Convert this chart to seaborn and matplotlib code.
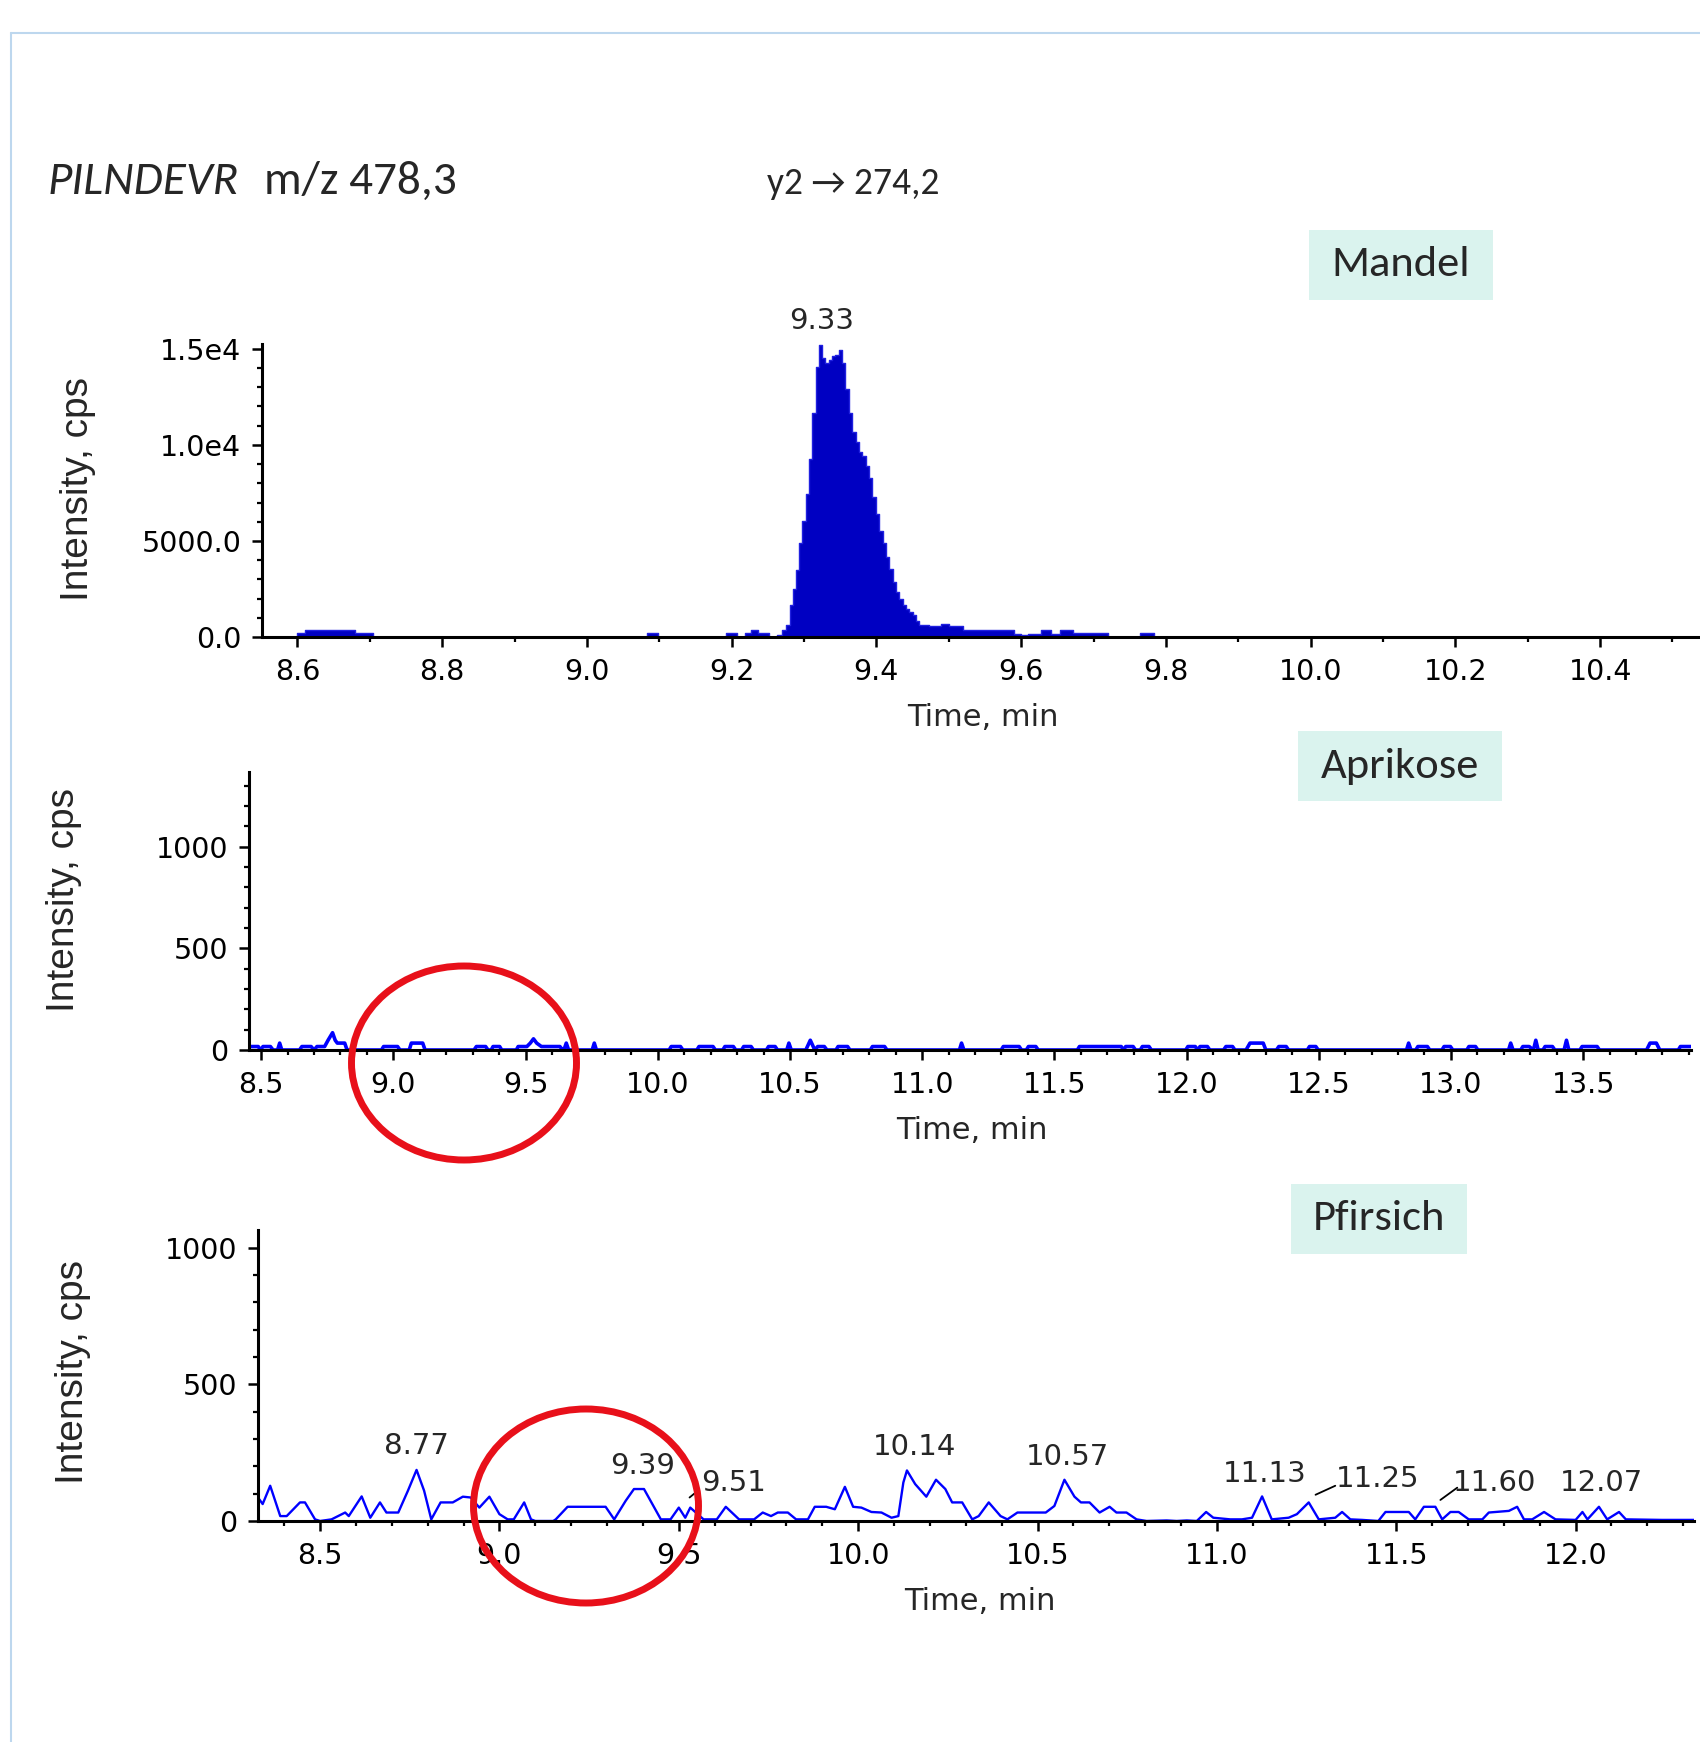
import matplotlib
matplotlib.use("Agg")
import numpy as np
import seaborn as sns
import matplotlib.pyplot as plt
from matplotlib.patches import Ellipse, Rectangle
from matplotlib.lines import Line2D
from matplotlib.ticker import MultipleLocator, FixedLocator, FixedFormatter, FormatStrFormatter
from matplotlib import font_manager

W, H = 1700, 1742

# ---------------- data ----------------
# Mandel (step chromatogram, time in min / intensity in cps)
mandel_time = [8.551, 8.600, 8.611, 8.679, 8.705, 9.083, 9.098, 9.192, 9.207, 9.218,
               9.226, 9.237, 9.252, 9.2628, 9.2698, 9.2744, 9.2800, 9.2847, 9.2884, 9.2930,
               9.2977, 9.3023, 9.3070, 9.3116, 9.3163, 9.3209, 9.3246, 9.3293, 9.3340, 9.3386,
               9.3433, 9.3479, 9.3526, 9.3572, 9.3619, 9.3665, 9.3712, 9.3758, 9.3805, 9.3851,
               9.3898, 9.3944, 9.3991, 9.4037, 9.4084, 9.4130, 9.4177, 9.4223, 9.4270, 9.4316,
               9.4363, 9.4409, 9.4456, 9.4502, 9.4549, 9.4595, 9.4725, 9.489, 9.500, 9.520,
               9.590, 9.600, 9.610, 9.627, 9.641, 9.654, 9.672, 9.720, 9.764, 9.783,
               10.538]
mandel_int = [0, 210, 350, 210, 0, 210, 0, 210, 0, 210,
              350, 210, 0, 120, 350, 640, 1680, 2510, 3510, 4900,
              6050, 7440, 9290, 11680, 14050, 15190, 14530, 14270, 14440, 14620,
              14700, 14930, 14240, 12900, 11680, 10680, 10160, 9640, 9430, 8910,
              8270, 7300, 6400, 5540, 4900, 4150, 3550, 2850, 2340, 1990,
              1640, 1470, 1300, 1150, 810, 650, 570, 690, 570, 345,
              170, 86, 170, 345, 170, 345, 190, 0, 190, 0,
              0]

# Aprikose
aprikose_time = [8.454, 8.489, 8.497, 8.507, 8.535, 8.545, 8.562, 8.570, 8.578, 8.645,
                 8.654, 8.689, 8.700, 8.711, 8.740, 8.753, 8.770, 8.780, 8.788, 8.816,
                 8.825, 8.955, 8.963, 9.016, 9.025, 9.060, 9.068, 9.111, 9.120, 9.305,
                 9.314, 9.349, 9.358, 9.370, 9.377, 9.402, 9.410, 9.465, 9.472, 9.505,
                 9.518, 9.530, 9.542, 9.560, 9.630, 9.640, 9.645, 9.654, 9.663, 9.752,
                 9.760, 9.768, 10.043, 10.051, 10.086, 10.095, 10.148, 10.156, 10.209, 10.218,
                 10.246, 10.254, 10.286, 10.295, 10.317, 10.325, 10.353, 10.362, 10.411, 10.419,
                 10.444, 10.453, 10.488, 10.496, 10.505, 10.560, 10.577, 10.594, 10.605, 10.630,
                 10.640, 10.674, 10.682, 10.718, 10.727, 10.804, 10.812, 10.858, 10.867, 11.141,
                 11.149, 11.158, 11.299, 11.307, 11.367, 11.376, 11.394, 11.402, 11.430, 11.439,
                 11.587, 11.595, 11.753, 11.762, 11.770, 11.798, 11.807, 11.825, 11.833, 11.858,
                 11.867, 11.997, 12.005, 12.033, 12.042, 12.051, 12.079, 12.088, 12.140, 12.149,
                 12.174, 12.183, 12.225, 12.240, 12.290, 12.300, 12.340, 12.349, 12.377, 12.386,
                 12.457, 12.465, 12.489, 12.498, 12.832, 12.840, 12.849, 12.867, 12.875, 12.911,
                 12.920, 12.966, 12.974, 12.998, 13.007, 13.060, 13.068, 13.093, 13.102, 13.218,
                 13.226, 13.235, 13.264, 13.272, 13.296, 13.312, 13.321, 13.330, 13.348, 13.356,
                 13.384, 13.393, 13.428, 13.437, 13.446, 13.488, 13.496, 13.553, 13.562, 13.740,
                 13.753, 13.777, 13.790, 13.860, 13.868, 13.908]
aprikose_int = [17, 17, 0, 17, 17, 0, 0, 34, 0, 0,
                17, 17, 0, 17, 17, 48, 85, 48, 34, 34,
                0, 0, 17, 17, 0, 0, 34, 34, 0, 0,
                17, 17, 0, 0, 17, 17, 0, 0, 17, 17,
                34, 55, 34, 17, 17, 0, 0, 34, 0, 0,
                34, 0, 0, 17, 17, 0, 0, 17, 17, 0,
                0, 17, 17, 0, 0, 17, 17, 0, 0, 17,
                17, 0, 0, 34, 0, 0, 48, 0, 17, 17,
                0, 0, 17, 17, 0, 0, 17, 17, 0, 0,
                34, 0, 0, 17, 17, 0, 0, 17, 17, 0,
                0, 17, 17, 0, 17, 17, 0, 0, 17, 17,
                0, 0, 17, 17, 0, 17, 17, 0, 0, 17,
                17, 0, 0, 34, 34, 0, 0, 17, 17, 0,
                0, 17, 17, 0, 0, 34, 0, 0, 17, 17,
                0, 0, 17, 17, 0, 0, 17, 17, 0, 0,
                34, 0, 0, 17, 17, 0, 48, 0, 0, 17,
                17, 0, 0, 48, 0, 0, 17, 17, 0, 0,
                34, 34, 0, 0, 17, 17]

# Pfirsich
pfirsich_time = [8.327, 8.340, 8.361, 8.389, 8.407, 8.444, 8.458, 8.486, 8.500, 8.532,
                 8.570, 8.580, 8.616, 8.640, 8.667, 8.685, 8.718, 8.745, 8.769, 8.790,
                 8.810, 8.836, 8.870, 8.898, 8.920, 8.944, 8.972, 9.000, 9.023, 9.040,
                 9.069, 9.088, 9.100, 9.150, 9.157, 9.190, 9.296, 9.320, 9.352, 9.375,
                 9.403, 9.450, 9.477, 9.500, 9.518, 9.532, 9.569, 9.606, 9.631, 9.668,
                 9.710, 9.734, 9.757, 9.776, 9.804, 9.827, 9.860, 9.879, 9.911, 9.935,
                 9.963, 9.986, 10.009, 10.037, 10.065, 10.093, 10.112, 10.126, 10.136, 10.159,
                 10.190, 10.217, 10.243, 10.262, 10.290, 10.318, 10.336, 10.364, 10.397, 10.416,
                 10.444, 10.523, 10.547, 10.575, 10.603, 10.621, 10.645, 10.673, 10.701, 10.720,
                 10.748, 10.776, 10.804, 10.860, 10.888, 10.916, 10.944, 10.970, 10.990, 11.037,
                 11.070, 11.098, 11.126, 11.153, 11.200, 11.223, 11.256, 11.284, 11.330, 11.349,
                 11.372, 11.405, 11.450, 11.470, 11.535, 11.553, 11.577, 11.609, 11.628, 11.651,
                 11.674, 11.702, 11.740, 11.758, 11.814, 11.837, 11.856, 11.879, 11.912, 11.944,
                 12.000, 12.019, 12.033, 12.065, 12.088, 12.121, 12.140, 12.240, 12.330]
pfirsich_int = [86, 62, 129, 18, 18, 68, 68, 6, 0, 6,
                31, 18, 90, 12, 68, 31, 31, 111, 187, 111,
                6, 68, 68, 89, 86, 49, 89, 25, 6, 6,
                68, 6, 0, 0, 6, 52, 52, 6, 74, 117,
                117, 6, 6, 49, 12, 49, 6, 6, 52, 6,
                6, 31, 18, 31, 31, 6, 6, 52, 52, 43,
                125, 52, 49, 33, 31, 12, 18, 141, 185, 135,
                89, 151, 117, 68, 68, 6, 18, 68, 18, 6,
                31, 31, 55, 151, 89, 68, 68, 31, 52, 31,
                31, 6, 0, 2, 0, 2, 0, 33, 12, 6,
                6, 12, 90, 6, 12, 25, 68, 6, 12, 33,
                6, 4, 0, 33, 33, 6, 52, 52, 6, 33,
                33, 6, 6, 31, 37, 52, 6, 6, 33, 6,
                4, 33, 6, 52, 6, 33, 6, 4, 4]

# peak labels
mandel_peak = "9.33"
pfirsich_peaks = ["8.77", "9.39", "9.51", "10.14", "10.57", "11.13", "11.25", "11.60", "12.07"]

# label placement (text centres, data units) and leader lines
mandel_peak_pos = (9.324, 16450)
pfirsich_label_x = [8.77, 9.398, 9.652, 10.158, 10.582, 11.134, 11.447, 11.775, 12.072]
pfirsich_label_y = [274, 200, 139, 270, 233, 172, 153, 139, 139]
leaders = [((9.530, 86), (9.556, 114)), ((11.275, 96), (11.330, 129)), ((11.623, 77), (11.670, 122))]

# ---------------- style ----------------
sns.set_style("ticks")
installed = {f.name for f in font_manager.fontManager.ttflist}


def pick(*names):
    for n in names:
        if n in installed:
            return n
    return "DejaVu Sans"


slide_font = pick("Carlito", "Lato", "Open Sans")
axis_font = "DejaVu Sans"
ylab_font = pick("Liberation Sans", "Arimo", "DejaVu Sans")
plt.rcParams["font.family"] = [axis_font]

BLUE = "#0000FF"
DARK = "#0000C2"
RED = "#E8101A"
BOX = "#DAF3EE"

fig = plt.figure(figsize=(W / 100, H / 100), dpi=100)
fig.patch.set_facecolor("white")


def px_axes(left, top, right, bottom):
    return fig.add_axes([left / W, 1 - bottom / H, (right - left) / W, (bottom - top) / H])


def style_axes(ax, xlim, ylim, xmaj, xmin, ymaj, ymin, xlab_xy, ylab_xy, yfmt=None):
    ax.set_xlim(*xlim)
    ax.set_ylim(*ylim)
    ax.set_facecolor("none")
    sns.despine(ax=ax)
    for s in ("left", "bottom"):
        ax.spines[s].set_linewidth(2.2)
        ax.spines[s].set_color("black")
    ax.xaxis.set_major_locator(FixedLocator(xmaj))
    ax.xaxis.set_minor_locator(MultipleLocator(xmin))
    ax.xaxis.set_major_formatter(FormatStrFormatter("%.1f"))
    ax.yaxis.set_major_locator(FixedLocator(ymaj))
    ax.yaxis.set_minor_locator(MultipleLocator(ymin))
    if yfmt is not None:
        ax.yaxis.set_major_formatter(FixedFormatter(yfmt))
    ax.tick_params(which="major", direction="out", length=7, width=1.8, labelsize=20.5, pad=8, colors="black")
    ax.tick_params(which="minor", direction="out", length=3.5, width=1.6, colors="black")
    ax.set_xlabel("Time, min", fontsize=22, family=axis_font)
    ax.xaxis.label.set_va("center")
    ax.xaxis.set_label_coords(xlab_xy[0] / W, 1 - xlab_xy[1] / H, transform=fig.transFigure)
    ax.set_ylabel("Intensity, cps", fontsize=28, family=ylab_font)
    ax.yaxis.label.set_va("center")
    ax.yaxis.set_label_coords(ylab_xy[0] / W, 1 - ylab_xy[1] / H, transform=fig.transFigure)


# ---------------- Mandel ----------------
ax1 = px_axes(262, 344, 1700, 637)
ax1.fill_between(mandel_time, mandel_int, step="post", color=DARK, lw=0, zorder=1)
sns.lineplot(x=mandel_time, y=mandel_int, ax=ax1, drawstyle="steps-post", color="#2020E0",
             lw=1.0, estimator=None, sort=False, zorder=1.5)
style_axes(ax1, (8.551, 10.538), (0, 15250), np.arange(8.6, 10.45, 0.2), 0.1,
           [0, 5000, 10000, 15000], 1000, (983, 717), (78, 489),
           yfmt=["0.0", "5000.0", "1.0e4", "1.5e4"])
ax1.text(mandel_peak_pos[0], mandel_peak_pos[1], mandel_peak, ha="center", va="center",
         fontsize=21, clip_on=False)

# ---------------- Aprikose ----------------
ax2 = px_axes(249, 772, 1691, 1050)
sns.lineplot(x=aprikose_time, y=aprikose_int, ax=ax2, color=BLUE, lw=2.6,
             estimator=None, sort=False)
style_axes(ax2, (8.454, 13.908), (0, 1368), np.arange(8.5, 13.55, 0.5), 0.1,
           [0, 500, 1000], 100, (972, 1130), (64, 900))
ax2.yaxis.set_major_formatter(FormatStrFormatter("%d"))

# ---------------- Pfirsich ----------------
ax3 = px_axes(258, 1230, 1694, 1521)
sns.lineplot(x=pfirsich_time, y=pfirsich_int, ax=ax3, color=BLUE, lw=1.7,
             estimator=None, sort=False)
style_axes(ax3, (8.327, 12.33), (0, 1065), np.arange(8.5, 12.05, 0.5), 0.1,
           [0, 500, 1000], 100, (980, 1601), (73, 1372))
ax3.yaxis.set_major_formatter(FormatStrFormatter("%d"))
for lab, lx, ly in zip(pfirsich_peaks, pfirsich_label_x, pfirsich_label_y):
    ax3.text(lx, ly, lab, ha="center", va="center", fontsize=21, clip_on=False)
for (x0, y0), (x1, y1) in leaders:
    ax3.plot([x0, x1], [y0, y1], color="black", lw=1.3)

# ---------------- slide decorations ----------------
fig.add_artist(Line2D([11 / W, 11 / W], [0, 1 - 33 / H], transform=fig.transFigure,
                      color="#BDD7EE", lw=1.5))
fig.add_artist(Line2D([11 / W, 1], [1 - 33 / H, 1 - 33 / H], transform=fig.transFigure,
                      color="#BDD7EE", lw=1.5))

fig.text(48 / W, 1 - 194 / H, "PILNDEVR", fontsize=34, style="italic", family=slide_font,
         ha="left", va="baseline")
fig.text(264 / W, 1 - 194 / H, "m/z 478,3", fontsize=34, family=slide_font,
         ha="left", va="baseline")
fig.text(767 / W, 1 - 194 / H, "y2 \u2192 274,2", fontsize=27, family=[slide_font, "DejaVu Sans"],
         ha="left", va="baseline")

for name, (l, t, r, b) in [("Mandel", (1309, 230, 1493, 300)),
                           ("Aprikose", (1298, 731, 1502, 801)),
                           ("Pfirsich", (1291, 1184, 1467, 1254))]:
    fig.add_artist(Rectangle((l / W, 1 - b / H), (r - l) / W, (b - t) / H,
                             transform=fig.transFigure, facecolor=BOX, edgecolor="none"))
    fig.text((l + r) / 2 / W, 1 - (t + b) / 2 / H, name, fontsize=32, family=slide_font,
             ha="center", va="center")

for cx, cy in [(464, 1063), (586, 1506)]:
    fig.add_artist(Ellipse((cx / W, 1 - cy / H), 225 / W, 194 / H, transform=fig.transFigure,
                           fill=False, edgecolor=RED, lw=5))

fig.savefig("out.png", dpi=100)
